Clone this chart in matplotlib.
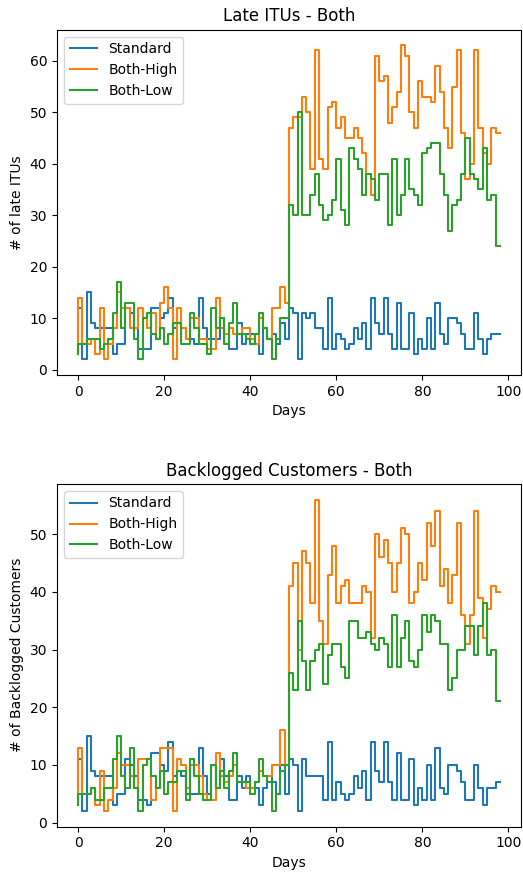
import numpy as np
import matplotlib
matplotlib.use("Agg")
from matplotlib import pyplot as plt

days = np.arange(99)

# Late ITUs per day
late_standard = [12, 12, 2, 15, 9, 8, 8, 8, 8, 3, 5, 5, 12, 11, 8, 4, 4, 4, 12, 12, 10, 11, 14, 8, 9,
                 8, 6, 6, 5, 14, 8, 6, 6, 6, 10, 7, 4, 4, 9, 5, 7, 7, 5, 3, 8, 6, 7, 5, 9, 6,
                 12, 11, 2, 11, 10, 11, 8, 8, 4, 14, 4, 7, 6, 4, 5, 8, 6, 9, 4, 14, 9, 7, 14, 7, 4,
                 13, 4, 4, 11, 3, 6, 4, 10, 4, 13, 7, 5, 10, 10, 9, 7, 4, 4, 11, 6, 3, 6, 7, 7]
late_high = [3, 14, 5, 5, 6, 3, 12, 2, 5, 8, 15, 12, 12, 8, 8, 12, 10, 8, 11, 6, 13, 16, 12, 2, 12,
             8, 6, 10, 10, 6, 6, 4, 4, 14, 8, 7, 8, 7, 7, 8, 8, 6, 5, 10, 8, 6, 12, 12, 16, 13,
             47, 49, 49, 53, 50, 39, 62, 41, 39, 51, 52, 47, 49, 45, 45, 47, 45, 42, 38, 34, 61, 56, 57, 48, 51,
             54, 63, 61, 50, 47, 56, 53, 53, 52, 59, 54, 47, 43, 55, 62, 46, 37, 40, 62, 47, 42, 40, 47, 46]
late_low = [3, 5, 5, 6, 6, 6, 4, 5, 6, 11, 17, 8, 13, 13, 6, 2, 10, 11, 7, 6, 8, 5, 7, 9, 9,
            5, 5, 11, 8, 5, 5, 3, 12, 8, 10, 5, 9, 13, 7, 7, 6, 5, 7, 11, 8, 6, 2, 6, 10, 10,
            32, 30, 50, 30, 30, 34, 38, 32, 29, 30, 33, 41, 31, 28, 43, 41, 39, 34, 38, 37, 33, 38, 38, 28, 41,
            30, 34, 41, 35, 34, 32, 42, 43, 44, 44, 38, 34, 27, 32, 33, 38, 45, 38, 37, 35, 43, 33, 34, 24]

# Backlogged customers per day
back_standard = [11, 11, 2, 15, 9, 8, 8, 8, 8, 3, 5, 5, 11, 10, 8, 4, 4, 3, 12, 12, 10, 9, 14, 8, 9,
                 8, 5, 5, 5, 13, 8, 5, 10, 6, 11, 8, 4, 4, 8, 6, 8, 6, 6, 3, 6, 8, 7, 5, 10, 5,
                 11, 10, 2, 11, 8, 8, 8, 8, 4, 14, 4, 7, 5, 4, 5, 8, 6, 9, 4, 14, 9, 7, 14, 7, 4,
                 12, 4, 4, 11, 3, 6, 4, 10, 4, 13, 6, 5, 10, 10, 9, 7, 4, 4, 10, 6, 3, 6, 6, 7]
back_high = [5, 13, 5, 5, 6, 3, 9, 2, 4, 6, 12, 10, 10, 8, 6, 11, 11, 11, 4, 6, 13, 13, 13, 2, 11,
             10, 6, 10, 10, 8, 5, 4, 4, 12, 8, 7, 8, 10, 7, 7, 6, 6, 7, 9, 8, 8, 10, 10, 16, 10,
             41, 45, 30, 47, 45, 38, 56, 35, 31, 43, 48, 38, 41, 42, 38, 38, 38, 41, 40, 32, 50, 46, 49, 45, 40,
             45, 51, 50, 38, 40, 45, 42, 52, 48, 54, 41, 44, 38, 43, 52, 36, 31, 36, 54, 39, 32, 37, 41, 40]
back_low = [3, 5, 5, 5, 6, 4, 4, 6, 6, 11, 15, 8, 6, 13, 6, 2, 10, 11, 8, 6, 9, 5, 7, 7, 9,
            9, 4, 11, 8, 5, 4, 4, 10, 6, 9, 6, 9, 12, 7, 7, 7, 5, 7, 11, 8, 7, 2, 5, 9, 10,
            26, 23, 35, 28, 23, 28, 30, 31, 24, 29, 31, 31, 27, 25, 35, 35, 32, 32, 33, 31, 30, 32, 31, 27, 36,
            27, 32, 35, 28, 27, 30, 36, 33, 36, 35, 31, 31, 23, 25, 30, 30, 34, 34, 29, 34, 38, 29, 30, 21]

labels = ["Standard", "Both-High", "Both-Low"]

fig = plt.figure(figsize=(5.23, 8.72), dpi=100)
ax1 = fig.add_axes([0.109, 0.570, 0.887, 0.396])
ax2 = fig.add_axes([0.109, 0.052, 0.887, 0.393])

for y, lab in zip([late_standard, late_high, late_low], labels):
    ax1.step(days, y, label=lab)
ax1.set_title("Late ITUs - Both")
ax1.set_xlabel("Days")
ax1.set_ylabel("# of late ITUs")
ax1.legend(loc="upper left")

for y, lab in zip([back_standard, back_high, back_low], labels):
    ax2.step(days, y, label=lab)
ax2.set_title("Backlogged Customers - Both")
ax2.set_xlabel("Days")
ax2.set_ylabel("# of Backlogged Customers")
ax2.legend(loc="upper left")

fig.savefig("out.png", dpi=100)
